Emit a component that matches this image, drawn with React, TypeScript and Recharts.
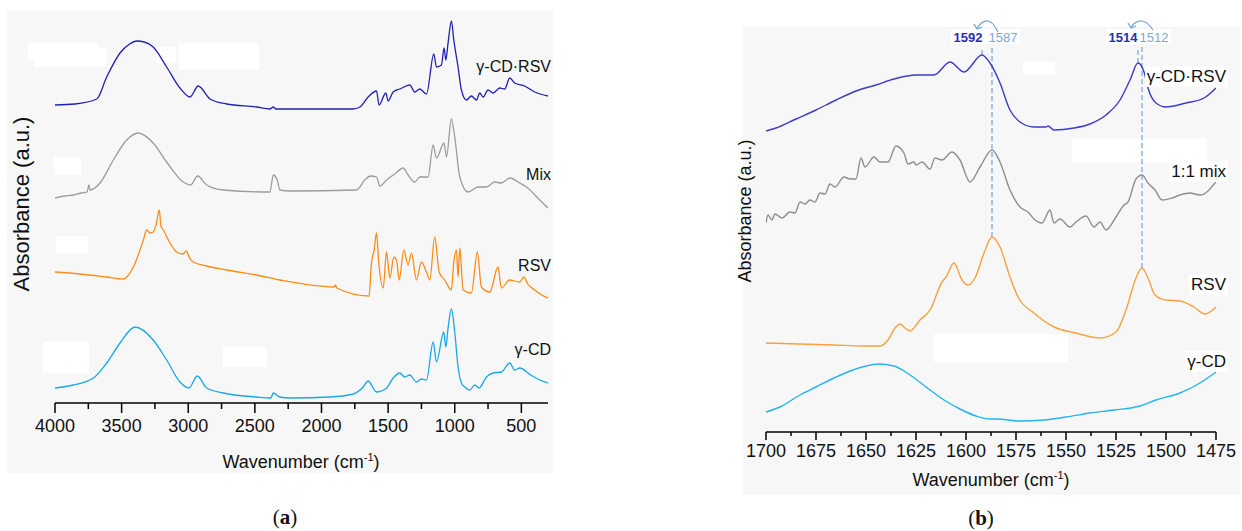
import React from "react";
import { LineChart, Line, XAxis, YAxis, ReferenceLine } from "recharts";

type Pt = [number, number];

// panel (a): [wavenumber cm-1, absorbance a.u. incl. stacking offset]
const CDRSV_A: Pt[] = [
  [4000, 298], [3850, 299], [3687, 304], [3612, 326], [3512, 350], [3440, 359], [3387, 362],
  [3330, 361], [3263, 356], [3162, 336], [3062, 315], [2987, 306], [2925, 317], [2837, 304],
  [2712, 299], [2487, 296], [2387, 294], [2362, 296], [2342, 294], [2237, 294], [1765, 294],
  [1712, 296], [1650, 306], [1587, 312], [1568, 298], [1517, 310], [1500, 302], [1462, 311],
  [1412, 314], [1337, 318], [1300, 311], [1262, 314], [1212, 309], [1157, 349], [1137, 336],
  [1100, 338], [1080, 355], [1067, 343], [1050, 360], [1025, 382], [1007, 363], [975, 336],
  [950, 313], [912, 303], [875, 307], [837, 303], [812, 310], [787, 306], [750, 313],
  [712, 310], [662, 315], [625, 314], [587, 325], [550, 320], [475, 317], [400, 311],
  [300, 307],
];
const MIX_A: Pt[] = [
  [4000, 205], [3930, 207], [3863, 208], [3800, 210], [3760, 211], [3745, 218], [3737, 213],
  [3662, 220], [3562, 243], [3462, 263], [3375, 270], [3263, 260], [3162, 241], [3037, 221],
  [2982, 218], [2930, 227], [2862, 218], [2737, 213], [2387, 211], [2362, 228], [2332, 223],
  [2312, 213], [2237, 212], [1737, 213], [1675, 223], [1632, 227], [1587, 226], [1562, 217],
  [1512, 223], [1450, 229], [1387, 235], [1350, 228], [1300, 221], [1262, 226], [1200, 226],
  [1162, 258], [1137, 245], [1080, 260], [1062, 246], [1025, 284], [1000, 266], [962, 226],
  [900, 211], [825, 216], [762, 216], [700, 221], [650, 220], [587, 225], [512, 220],
  [452, 215], [362, 203], [300, 195],
];
const RSV_A: Pt[] = [
  [4000, 131], [3812, 129], [3612, 126], [3487, 124], [3412, 136], [3337, 163], [3312, 173],
  [3287, 170], [3263, 171], [3242, 178], [3217, 193], [3205, 177], [3187, 173], [3137, 160],
  [3087, 151], [3040, 149], [3015, 152], [2990, 145], [2962, 141], [2862, 137], [2712, 133],
  [2487, 128], [2312, 123], [1905, 116], [1895, 118], [1885, 115], [1643, 107], [1625, 140],
  [1605, 153], [1587, 170], [1570, 140], [1537, 115], [1512, 151], [1487, 125], [1457, 146],
  [1437, 143], [1417, 123], [1382, 153], [1350, 138], [1325, 150], [1287, 123], [1250, 141],
  [1212, 131], [1187, 123], [1150, 166], [1117, 131], [1075, 123], [1025, 113], [1007, 141],
  [987, 153], [975, 126], [962, 155], [937, 113], [875, 110], [830, 151], [800, 116],
  [737, 111], [675, 136], [650, 115], [587, 123], [512, 121], [482, 126], [452, 119],
  [400, 113], [347, 108], [300, 105],
];
const CD_A: Pt[] = [
  [4000, 15], [3863, 18], [3712, 25], [3612, 40], [3512, 60], [3400, 76], [3263, 63],
  [3162, 43], [3062, 21], [2995, 15], [2932, 27], [2862, 15], [2737, 10], [2487, 6],
  [2380, 5], [2362, 10], [2312, 6], [2237, 5], [1937, 6], [1762, 9], [1687, 16], [1650, 22],
  [1587, 11], [1512, 15], [1462, 25], [1412, 30], [1375, 26], [1337, 28], [1287, 21],
  [1250, 24], [1212, 23], [1162, 61], [1137, 41], [1082, 71], [1067, 56], [1050, 75],
  [1025, 94], [1000, 71], [975, 36], [950, 20], [925, 16], [887, 13], [850, 18], [817, 15],
  [762, 26], [712, 30], [650, 31], [587, 40], [550, 33], [512, 35], [430, 28], [362, 23],
  [300, 20],
];

// panel (b)
const CDRSV_B: Pt[] = [
  [1700, 301], [1695, 304], [1685, 313], [1675, 322], [1665, 332], [1655, 341], [1645, 347],
  [1636, 353], [1625, 357], [1616, 357], [1608, 370], [1601, 360], [1592, 377], [1588, 369],
  [1583, 349], [1578, 322], [1573, 310], [1566, 305], [1560, 305], [1559, 306], [1556, 302],
  [1546, 304], [1538, 308], [1530, 317], [1523, 332], [1518, 352], [1514, 369], [1511, 360],
  [1509, 344], [1505, 329], [1500, 325], [1490, 329], [1481, 334], [1475, 344],
];
const MIX_B: Pt[] = [
  [1700, 209], [1699, 217], [1697, 212], [1695.5, 218], [1692, 214], [1688, 220], [1685.5, 219],
  [1683, 230], [1680.5, 228], [1678, 232], [1675.5, 230], [1673, 239], [1670.5, 238],
  [1668, 248], [1665.5, 245], [1661, 255], [1658, 253], [1655, 253], [1652.5, 274],
  [1650.5, 265], [1646, 275], [1643, 270], [1639, 270], [1635, 286], [1631, 279], [1629, 268],
  [1626, 270], [1625, 267], [1622, 270], [1618, 263], [1615.5, 274], [1612, 272], [1607, 280],
  [1603, 272], [1598, 250], [1593, 265], [1587, 282], [1583, 270], [1578, 242], [1573, 225],
  [1569, 220], [1566, 213], [1562, 209], [1558, 222], [1556, 209], [1553, 213], [1548, 205],
  [1545, 210], [1540, 216], [1536, 205], [1533, 210], [1530, 202], [1525, 215], [1521, 227],
  [1519, 230], [1515, 253], [1512, 257], [1509, 249], [1505.5, 242], [1502, 232], [1497, 234],
  [1493, 237], [1488, 239], [1483, 237], [1475, 250],
];
const RSV_B: Pt[] = [
  [1700, 89], [1683, 88], [1666, 87], [1651, 86], [1643, 86], [1639, 92], [1635.5, 104],
  [1633, 108], [1630.5, 104], [1628, 101], [1623, 112], [1618, 122], [1612, 150], [1610, 155],
  [1606, 169], [1602, 152], [1599, 147], [1595.5, 154], [1591, 179], [1587, 195], [1583, 185],
  [1578, 155], [1574, 135], [1566, 119], [1556, 105], [1545, 99], [1533, 94], [1525, 100],
  [1520, 122], [1515, 154], [1512, 164], [1509, 154], [1505.5, 137], [1500, 132], [1493, 131],
  [1486, 125], [1480.5, 118], [1475, 125],
];
const CD_B: Pt[] = [
  [1700, 20], [1693, 25], [1683, 37], [1675, 45], [1666, 54], [1658, 61], [1650, 66],
  [1644, 68], [1636, 66], [1628, 57], [1618, 42], [1611, 32], [1603, 23], [1595, 16],
  [1588, 13], [1585, 13], [1573, 11], [1561, 12], [1550, 15], [1538, 19], [1526, 22],
  [1513, 26], [1505, 32], [1493, 39], [1483, 49], [1475, 60],
];

const TICKS_A = [4000, 3750, 3500, 3250, 3000, 2750, 2500, 2250, 2000, 1750, 1500, 1250, 1000, 750, 500];
const TICKS_B = [
  1700, 1687.5, 1675, 1662.5, 1650, 1637.5, 1625, 1612.5, 1600, 1587.5, 1575, 1562.5,
  1550, 1537.5, 1525, 1512.5, 1500, 1487.5, 1475,
];

const SERIES_A = [
  { key: "cdrsv", pts: CDRSV_A, color: "#2020b4" },
  { key: "mix", pts: MIX_A, color: "#9c9c9c" },
  { key: "rsv", pts: RSV_A, color: "#ff8a14" },
  { key: "cd", pts: CD_A, color: "#18a8e8" },
];
const SERIES_B = [
  { key: "cdrsv", pts: CDRSV_B, color: "#3c3cc8" },
  { key: "mix", pts: MIX_B, color: "#8e8e8e" },
  { key: "rsv", pts: RSV_B, color: "#f9a040" },
  { key: "cd", pts: CD_B, color: "#25b4ef" },
];

const LABELS_A = [
  { text: "γ-CD·RSV", y: 67 },
  { text: "Mix", y: 175 },
  { text: "RSV", y: 266 },
  { text: "γ-CD", y: 350 },
];
const LABELS_B = [
  { text: "γ-CD·RSV", y: 77 },
  { text: "1:1 mix", y: 172 },
  { text: "RSV", y: 285 },
  { text: "γ-CD", y: 362 },
];

// white patches that sit on the original figure
const BLANKS = [
  [28, 43, 70, 17], [34, 48, 72, 19], [156, 47, 20, 16], [179, 43, 80, 27],
  [54, 157, 27, 18], [56, 236, 32, 17], [43, 342, 46, 31], [223, 347, 44, 20],
  [1023, 62, 32, 13], [1072, 138, 135, 24], [934, 334, 134, 28],
];

const toRows = (pts: Pt[]) => pts.map(([w, v]) => ({ w, v }));

const FONT = "'Liberation Sans', Arial, sans-serif";

function TickA(props: any) {
  const { x, y, payload } = props;
  const major = payload.value % 500 === 0;
  return (
    <g>
      <line x1={x} y1={y} x2={x} y2={y + (major ? 10 : 6)} stroke="#000" strokeWidth={1.5} />
      {major && (
        <text x={x} y={y + 29} textAnchor="middle" fontSize={18} fill="#111" fontFamily={FONT}>
          {payload.value}
        </text>
      )}
    </g>
  );
}

function TickB(props: any) {
  const { x, y, payload } = props;
  const major = (1700 - payload.value) % 25 === 0;
  return (
    <g>
      <line x1={x} y1={y} x2={x} y2={y + (major ? 8 : 4)} stroke="#000" strokeWidth={1.5} />
      {major && (
        <text x={x} y={y + 25} textAnchor="middle" fontSize={18} fill="#111" fontFamily={FONT}>
          {payload.value}
        </text>
      )}
    </g>
  );
}

function PeakPair(props: any) {
  const { viewBox, left, right, dl, dr, arc } = props;
  if (!viewBox) return null;
  const x = viewBox.x;
  const y = viewBox.y;
  const [sx, sy, cx, cy, ex, ey] = arc;
  return (
    <g fontFamily={FONT}>
      <rect x={x + dl - 17} y={y - 18} width={dr - dl + 34} height={15} fill="#fff" />
      <text x={x + dl} y={y - 5} textAnchor="middle" fontSize={13} fontWeight={700} fill="#2630b0">
        {left}
      </text>
      <text x={x + dr} y={y - 5} textAnchor="middle" fontSize={13} fill="#7ea6d8">
        {right}
      </text>
      <path
        d={`M${x + sx},${y + sy} Q${x + cx},${y + cy} ${x + ex},${y + ey}`}
        fill="none"
        stroke="#6fa2d8"
        strokeWidth={1.2}
      />
      <path
        d={`M${x + ex - 3},${y + ey - 4} L${x + ex},${y + ey + 1} L${x + ex + 5},${y + ey - 1}`}
        fill="none"
        stroke="#6fa2d8"
        strokeWidth={1.2}
      />
    </g>
  );
}

const dash = { stroke: "#92b4dc", strokeDasharray: "5 3", strokeWidth: 1.5 };

function abs(x: number, y: number, extra: React.CSSProperties = {}): React.CSSProperties {
  return { position: "absolute", left: x, top: y, ...extra };
}

export default function App() {
  return (
    <div style={{ position: "absolute", left: 0, top: 0, width: 1242, height: 531, background: "#fff", fontFamily: FONT, overflow: "hidden" }}>
      <div style={abs(7, 10, { width: 546, height: 463, background: "#f7f7f7" })} />
      <div style={abs(743, 27, { width: 497, height: 468, background: "#f7f7f7" })} />
      {BLANKS.map(([x, y, w, h], i) => (
        <div key={i} style={abs(x, y, { width: w, height: h, background: "#fff" })} />
      ))}

      <div style={abs(0, 0)}>
        <LineChart width={560} height={480} margin={{ top: 8, right: 12, bottom: 17, left: 55 }}>
          <XAxis
            dataKey="w"
            type="number"
            domain={[300, 4000]}
            reversed
            allowDataOverflow
            ticks={TICKS_A}
            interval={0}
            tickLine={false}
            tickSize={0}
            tickMargin={0}
            tick={<TickA />}
            axisLine={{ stroke: "#000", strokeWidth: 1.5 }}
            height={60}
          />
          <YAxis hide type="number" domain={[0, 395]} allowDataOverflow />
          {SERIES_A.map((s) => (
            <Line
              key={s.key}
              data={toRows(s.pts)}
              dataKey="v"
              type="monotoneX"
              stroke={s.color}
              strokeWidth={1.3}
              dot={false}
              activeDot={false}
              isAnimationActive={false}
            />
          ))}
        </LineChart>
      </div>

      <div style={abs(740, 0)}>
        <LineChart width={502} height={500} margin={{ top: 32, right: 26, bottom: 18, left: 26 }}>
          <XAxis
            dataKey="w"
            type="number"
            domain={[1475, 1700]}
            reversed
            allowDataOverflow
            ticks={TICKS_B}
            interval={0}
            tickLine={false}
            tickSize={0}
            tickMargin={0}
            tick={<TickB />}
            axisLine={{ stroke: "#000", strokeWidth: 1.5 }}
            height={50}
          />
          <YAxis hide type="number" domain={[0, 400]} allowDataOverflow />
          <ReferenceLine segment={[{ x: 1592, y: 377 }, { x: 1592, y: 385 }]} {...dash} />
          <ReferenceLine
            segment={[{ x: 1587, y: 195 }, { x: 1587, y: 385 }]}
            {...dash}
            label={<PeakPair left="1592" right="1587" dl={-24} dr={11} arc={[6, -15, -3.5, -35, -15, -19]} />}
          />
          <ReferenceLine segment={[{ x: 1514, y: 369 }, { x: 1514, y: 385 }]} {...dash} />
          <ReferenceLine
            segment={[{ x: 1512, y: 164 }, { x: 1512, y: 385 }]}
            {...dash}
            label={<PeakPair left="1514" right="1512" dl={-19} dr={12} arc={[11, -17, 0, -33.5, -11, -20]} />}
          />
          {SERIES_B.map((s) => (
            <Line
              key={s.key}
              data={toRows(s.pts)}
              dataKey="v"
              type="monotoneX"
              stroke={s.color}
              strokeWidth={1.4}
              dot={false}
              activeDot={false}
              isAnimationActive={false}
            />
          ))}
        </LineChart>
      </div>

      {LABELS_A.map((l) => (
        <div key={l.text} style={abs(0, l.y - 10, { width: 551, textAlign: "right", fontSize: 16, lineHeight: "20px", color: "#111" })}>
          {l.text}
        </div>
      ))}
      {LABELS_B.map((l) => (
        <div key={l.text} style={abs(0, l.y - 11, { width: 1228, textAlign: "right", fontSize: 17, lineHeight: "22px", color: "#111" })}>
          <span style={{ background: "#fff", padding: "1px 2px" }}>{l.text}</span>
        </div>
      ))}

      <div style={abs(301, 462, { transform: "translate(-50%, -50%)", fontSize: 18, whiteSpace: "nowrap", color: "#111" })}>
        Wavenumber (cm<sup style={{ fontSize: 11, verticalAlign: "7px", lineHeight: 0 }}>-1</sup>)
      </div>
      <div style={abs(991, 480, { transform: "translate(-50%, -50%)", fontSize: 18, whiteSpace: "nowrap", color: "#111" })}>
        Wavenumber (cm<sup style={{ fontSize: 11, verticalAlign: "7px", lineHeight: 0 }}>-1</sup>)
      </div>

      <div style={abs(22, 204, { transform: "translate(-50%, -50%) rotate(-90deg)", fontSize: 22, whiteSpace: "nowrap", color: "#111" })}>
        Absorbance (a.u.)
      </div>
      <div style={abs(745, 211, { transform: "translate(-50%, -50%) rotate(-90deg)", fontSize: 18, whiteSpace: "nowrap", color: "#111" })}>
        Absorbance (a.u.)
      </div>

      <div style={abs(285, 517, { transform: "translate(-50%, -50%)", fontFamily: "'Liberation Serif', 'Times New Roman', serif", fontSize: 21, color: "#111" })}>
        (<b>a</b>)
      </div>
      <div style={abs(981, 518, { transform: "translate(-50%, -50%)", fontFamily: "'Liberation Serif', 'Times New Roman', serif", fontSize: 21, color: "#111" })}>
        (<b>b</b>)
      </div>
    </div>
  );
}
